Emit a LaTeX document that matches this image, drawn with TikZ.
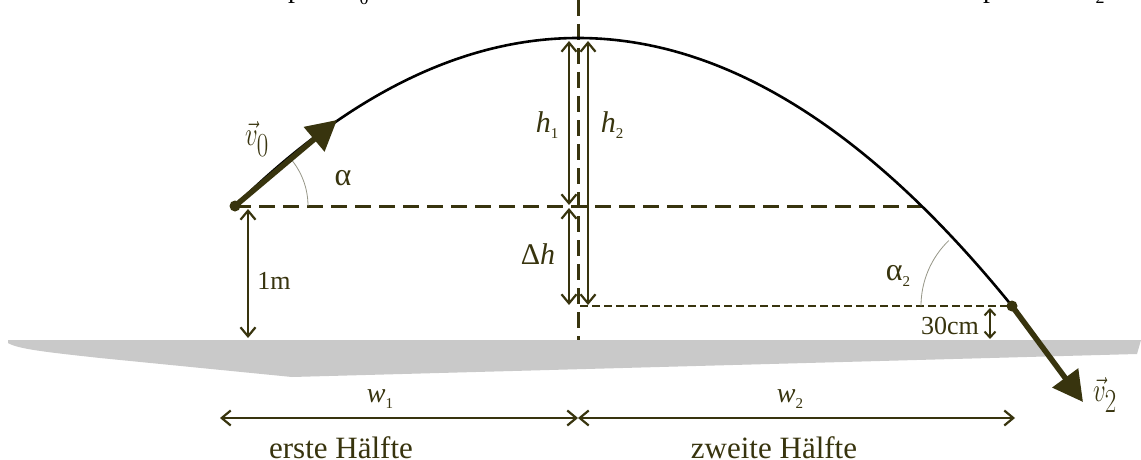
\documentclass[tikz,border=0pt]{standalone}
\usepackage{fontspec}
\setmainfont{Liberation Serif}
\usetikzlibrary{arrows.meta,calc}
\definecolor{olv}{RGB}{56,52,14}
\definecolor{gnd}{RGB}{201,201,201}
\definecolor{arcc}{RGB}{150,150,135}
\newcommand\lsub[1]{\raisebox{-0.45ex}{\fontsize{15}{15}\selectfont #1}}
\begin{document}
\begin{tikzpicture}[x=1pt,y=-1pt,
  dim/.style={olv, line width=1.4pt,
    {Straight Barb[length=9pt,width=15pt,line width=2.2pt]}-{Straight Barb[length=9pt,width=15pt,line width=2.2pt]}},
  smalldim/.style={olv, line width=1.4pt,
    {Straight Barb[length=6pt,width=11pt,line width=2pt]}-{Straight Barb[length=6pt,width=11pt,line width=2pt]}},
  bigdash/.style={olv, line width=3pt, dash pattern=on 16pt off 8pt},
  smalldash/.style={olv, line width=1.4pt, dash pattern=on 8pt off 4pt},
  traj/.style={black, line width=2.6pt},
  vel/.style={olv, line width=5.5pt, -{Triangle[length=30pt,width=31pt]}},
  anglearc/.style={arcc, line width=0.8pt},
  lbl/.style={text=olv, inner sep=0pt, font=\fontsize{26}{26}\selectfont},
  hlbl/.style={lbl, font=\fontsize{30}{30}\selectfont},
  vlbl/.style={lbl, font=\fontsize{33}{33}\selectfont, yscale=1.35},
  big/.style={text=olv, inner sep=0pt, font=\fontsize{31}{31}\selectfont},
  dot/.style={circle, fill=olv, inner sep=0pt, minimum size=11pt},
  frag/.style={text=black, inner sep=0pt, anchor=base, font=\fontsize{28}{28}\selectfont}]
\useasboundingbox (0,0) rectangle (1141,460);
\fill[white] (0,0) rectangle (1141,460);
\begin{scope}
\clip (0,0) rectangle (1141,460);
% fragments of a text line cut off at the top edge
\node[frag] (f1) at (295,-2) {p};
\node[frag, font=\fontsize{18}{18}\selectfont] (f2) at (364,5) {0};
\node[frag] (f3) at (990,-2) {p};
\node[frag, font=\fontsize{18}{18}\selectfont] (f4) at (1100,4) {2};
\end{scope}

% named points
\coordinate (L) at (235,206);
\coordinate (A) at (578,38);
\coordinate (E) at (1012,306);
\coordinate (X) at (922,206);
\coordinate (V0) at (337,120);
\coordinate (V2) at (1083,402);
\coordinate (vtop) at (578,0);
\coordinate (vbot) at (578,340);
\coordinate (sdl) at (580,306);

% ground
\fill[gnd] (8,340) -- (1141,340) -- (1137,354) -- (292,377) -- (100,358)
  .. controls (45,352) and (18,349) .. (8,343) -- cycle;

% dashed lines
\draw[bigdash] (vtop) -- (vbot);
\draw[bigdash] (L) -- (X);
\draw[smalldash] (sdl) -- (E);

% angle arcs
\draw[anglearc] ($(L)+(73,0)$) arc[start angle=0, end angle=-41, radius=73];
\draw[anglearc] ($(E)+(-91,0)$) arc[start angle=180, end angle=226, radius=91];

% trajectory
\draw[traj] (L) .. controls (349.3,94) and (463.7,38) .. (A)
  .. controls (722.7,38) and (867.3,127.3) .. (E);

% velocity vectors
\draw[vel] (L) -- (V0);
\draw[vel] (E) -- (V2);
\node[dot] (dL) at (L) {};
\node[dot] (dE) at (E) {};

% vertical dimensions
\coordinate (h1t) at (569,41);
\coordinate (h1b) at (569,205);
\coordinate (dht) at (569,208);
\coordinate (dhb) at (569,305);
\coordinate (h2t) at (588,41);
\coordinate (h2b) at (588,305);
\coordinate (m1t) at (248,209);
\coordinate (m1b) at (248,338);
\coordinate (c3t) at (990,308);
\coordinate (c3b) at (990,339);
\draw[dim] (h1t) -- (h1b);
\draw[dim] (dht) -- (dhb);
\draw[dim] (h2t) -- (h2b);
\draw[dim] (m1t) -- (m1b);
\draw[smalldim] (c3t) -- (c3b);

% horizontal dimensions
\coordinate (w1l) at (220,418);
\coordinate (wm) at (578,418);
\coordinate (w2r) at (1015,418);
\draw[dim] (w1l) -- (wm);
\draw[dim] (wm) -- (w2r);

% labels
\node[vlbl] (lv0) at (257,139) {$\vec{v}_0$};
\node[lbl, font=\fontsize{32}{32}\selectfont] (la) at (343,178) {α};
\node[lbl] (l1m) at (274,281) {1m};
\node[hlbl] (lh1) at (547,125) {\textit{h}\lsub{1}};
\node[hlbl] (lh2) at (612,125) {\textit{h}\lsub{2}};
\node[hlbl] (ldh) at (538,254) {Δ\textit{h}};
\node[lbl, font=\fontsize{32}{32}\selectfont] (la2) at (898,276) {α\lsub{2}};
\node[lbl] (l30) at (950,326) {30cm};
\node[vlbl] (lv2) at (1105,395) {$\vec{v}_2$};
\node[lbl, font=\fontsize{28}{28}\selectfont] (lw1) at (380,399) {\textit{w}\lsub{1}};
\node[lbl, font=\fontsize{28}{28}\selectfont] (lw2) at (790,399) {\textit{w}\lsub{2}};
\node[big] (t1) at (341,448) {erste Hälfte};
\node[big] (t2) at (774,448) {zweite Hälfte};
\end{tikzpicture}
\end{document}
